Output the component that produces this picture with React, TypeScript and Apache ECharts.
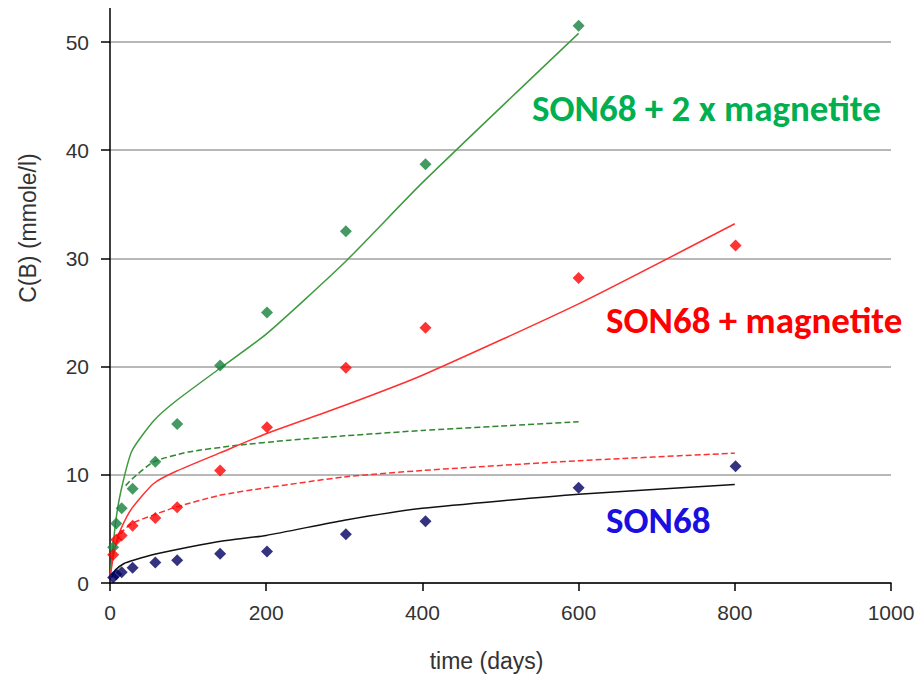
import React, { useEffect, useRef } from "react";
import * as echarts from "echarts";

// Measured data (time in days, C(B) in mmole/l)
const days = [4, 8, 15, 29, 58, 86, 141, 201, 302, 404, 600, 801];
const son68Points = [0.5, 0.8, 1.0, 1.4, 1.9, 2.1, 2.7, 2.9, 4.5, 5.7, 8.8, 10.8];
const magPoints = [2.6, 4.0, 4.4, 5.3, 6.0, 7.0, 10.4, 14.4, 19.9, 23.6, 28.2, 31.2];
const mag2Points = [3.3, 5.5, 6.9, 8.7, 11.2, 14.7, 20.1, 25.0, 32.5, 38.7, 51.5];

// Model curves
const mag2ModelX = [0, 7, 14, 28, 56, 84, 140, 200, 300, 400, 600];
const mag2ModelY = [0.5, 5.5, 8.5, 12.2, 15.0, 16.8, 19.8, 23.0, 29.6, 37.0, 50.8];
const mag2DashX = [20, 28, 56, 100, 160, 230, 300, 400, 500, 600];
const mag2DashY = [9.0, 9.6, 11.2, 12.1, 12.7, 13.2, 13.6, 14.1, 14.5, 14.9];
const magModelX = [0, 7, 14, 28, 56, 84, 140, 200, 300, 400, 600, 800];
const magModelY = [0.5, 3.5, 5.0, 6.9, 9.2, 10.3, 12.0, 13.8, 16.4, 19.2, 25.8, 33.2];
const magDashX = [4, 14, 28, 56, 84, 140, 200, 300, 400, 600, 800];
const magDashY = [3.0, 4.6, 5.5, 6.3, 7.0, 8.1, 8.8, 9.8, 10.4, 11.3, 12.0];
const son68ModelX = [2, 7, 18, 30, 60, 100, 146, 200, 300, 400, 600, 800];
const son68ModelY = [0.5, 1.2, 1.8, 2.1, 2.7, 3.3, 3.9, 4.4, 5.8, 6.9, 8.2, 9.1];

const xTicks = [0, 200, 400, 600, 800, 1000];
const yTicks = [0, 10, 20, 30, 40, 50];

const zip = (xs: number[], ys: number[]) => ys.map((y, i) => [xs[i], y]);

export default function App() {
  const ref = useRef<HTMLDivElement>(null);
  useEffect(() => {
    document.body.style.margin = "0";
    if (!ref.current) return;
    const chart = echarts.init(ref.current, undefined, { renderer: "svg" });
    const lineS = (name: string, xs: number[], ys: number[], color: string, type: string, width: number) => ({
      name,
      type: "line",
      data: zip(xs, ys),
      symbol: "none",
      smooth: 0.2,
      clip: false,
      lineStyle: { color, width, type },
      z: 2,
    });
    const scatterS = (name: string, xs: number[], ys: number[], color: string) => ({
      name,
      type: "scatter",
      data: zip(xs, ys),
      symbol: "diamond",
      symbolSize: 12,
      clip: false,
      itemStyle: { color },
      z: 3,
    });
    const labelFont = { fontFamily: "Carlito, Lato", fontWeight: "bold", fontSize: 37 };
    const axisFont = { fontFamily: "Liberation Sans", fontSize: 21, color: "#333" };
    chart.setOption({
      animation: false,
      backgroundColor: "#ffffff",
      grid: { left: 110, right: 29, top: 42, bottom: 85, containLabel: false },
      xAxis: {
        type: "value",
        min: xTicks[0],
        max: xTicks[xTicks.length - 1],
        interval: 200,
        name: "time (days)",
        nameLocation: "middle",
        nameGap: 66,
        nameTextStyle: { fontFamily: "Liberation Sans", fontSize: 23, color: "#333", padding: [0, 28, 0, 0] },
        axisLine: { show: true, lineStyle: { color: "#000", width: 1.5 } },
        axisTick: { show: true, length: 8, lineStyle: { color: "#000", width: 1.5 } },
        axisLabel: { ...axisFont, margin: 19, formatter: (v: number) => String(v) },
        splitLine: { show: false },
      },
      yAxis: {
        type: "value",
        min: yTicks[0],
        max: yTicks[yTicks.length - 1],
        interval: 10,
        axisLine: { show: true, lineStyle: { color: "#000", width: 1.5 } },
        axisTick: { show: true, length: 9, lineStyle: { color: "#000", width: 1.5 } },
        axisLabel: { ...axisFont, margin: 21, formatter: (v: number) => String(v) },
        splitLine: { show: true, lineStyle: { color: "#a0a0a0", width: 1.5 } },
      },
      graphic: [
        { type: "line", shape: { x1: 110, y1: 8, x2: 110, y2: 43 }, style: { stroke: "#000", lineWidth: 1.5 } },
        {
          type: "text",
          x: 28,
          y: 228,
          rotation: Math.PI / 2,
          style: { text: "C(B) (mmole/l)", fontFamily: "Liberation Sans", fontSize: 23, fill: "#333", align: "center", verticalAlign: "middle" },
        },
        {
          type: "text",
          x: 532,
          y: 108,
          style: { text: "SON68 + 2 x magnetite", ...labelFont, fill: "#00B050", align: "left", verticalAlign: "middle" },
        },
        {
          type: "text",
          x: 606,
          y: 320,
          style: { text: "SON68 + magnetite", ...labelFont, fill: "#FF0000", align: "left", verticalAlign: "middle" },
        },
        {
          type: "text",
          x: 606,
          y: 520,
          style: { text: "SON68", ...labelFont, fill: "#1A0FE0", align: "left", verticalAlign: "middle" },
        },
      ],
      series: [
        lineS("SON68 + 2 x magnetite model", mag2ModelX, mag2ModelY, "#3F9A3F", "solid", 1.5),
        lineS("SON68 + 2 x magnetite model (dashed)", mag2DashX, mag2DashY, "#2E862E", "dashed", 1.5),
        lineS("SON68 + magnetite model", magModelX, magModelY, "#FF3030", "solid", 1.5),
        lineS("SON68 + magnetite model (dashed)", magDashX, magDashY, "#FF3030", "dashed", 1.5),
        lineS("SON68 model", son68ModelX, son68ModelY, "#111111", "solid", 1.5),
        scatterS("SON68 + 2 x magnetite", days, mag2Points, "#17803C"),
        scatterS("SON68 + magnetite", days, magPoints, "#FF0000"),
        scatterS("SON68", days, son68Points, "#000060"),
      ],
    });
    return () => chart.dispose();
  }, []);
  return <div ref={ref} style={{ width: 920, height: 677 }} />;
}
